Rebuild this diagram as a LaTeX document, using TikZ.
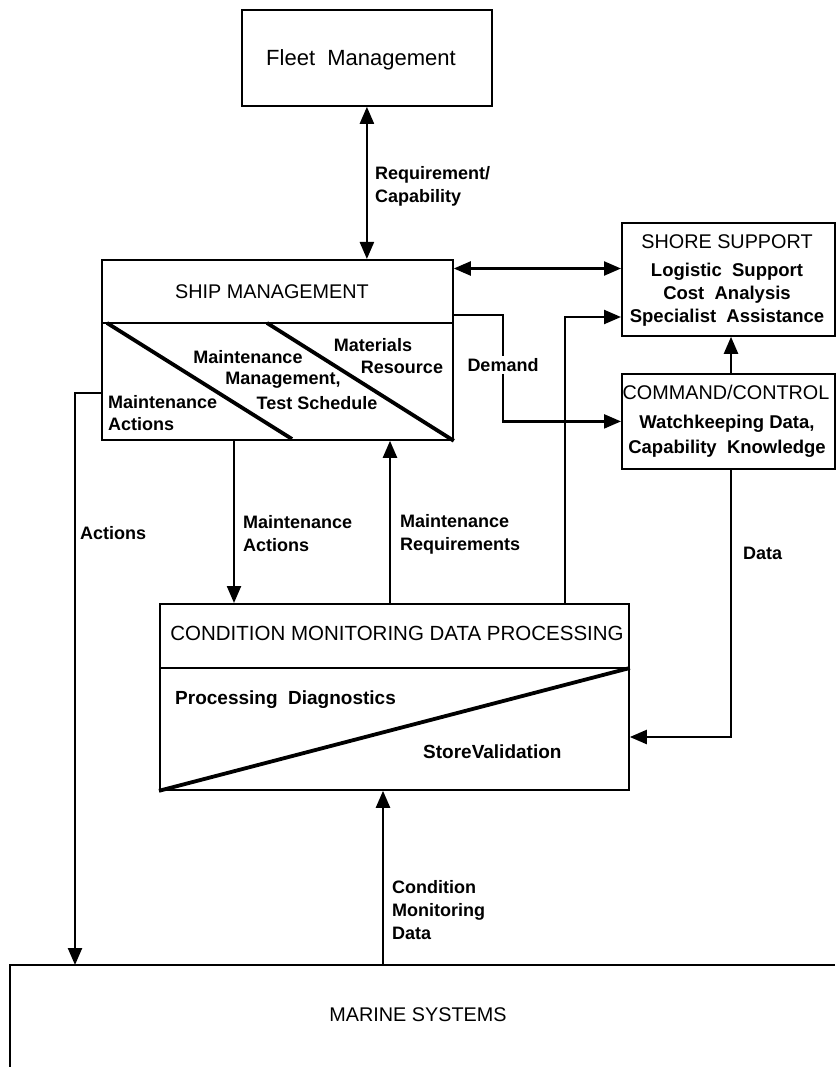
\documentclass[tikz,border=0pt]{standalone}
\usepackage{fontspec}
\setmainfont{Liberation Sans}
\usetikzlibrary{arrows.meta}
\begin{document}
\begin{tikzpicture}[x=1pt,y=-1pt,
  box/.style={draw,line width=1.8pt,anchor=north west,inner sep=0pt},
  head/.style={inner sep=0pt,font=\fontsize{19.8}{22}\selectfont},
  lbl/.style={inner sep=0pt,font=\bfseries\fontsize{18}{23}\selectfont},
  conn/.style={line width=2.3pt},
  tip/.style={-{Triangle[length=17pt,width=14pt]}},
  tips/.style={{Triangle[length=17pt,width=14pt]}-{Triangle[length=17pt,width=14pt]}},
  diag/.style={line width=3.8pt}]
\useasboundingbox (0,0) rectangle (835,1067);

% boxes
\node[box,minimum width=250pt,minimum height=96pt] (fleet) at (241,9) {};
\node[box,minimum width=351pt,minimum height=180pt] (ship) at (101,259) {};
\node[box,minimum width=213pt,minimum height=113pt] (shore) at (621,222) {};
\node[box,minimum width=213pt,minimum height=95pt] (cmd) at (621,373) {};
\node[box,minimum width=469pt,minimum height=186pt] (cmdp) at (159,603) {};

% dividers and diagonals
\coordinate (sdiv) at (0,323);
\draw[line width=1.8pt] (ship.west |- sdiv) -- (ship.east |- sdiv);
\draw[diag] (107,323) -- (292,439);
\draw[diag] (267,323) -- (ship.south east);
\coordinate (cdiv) at (0,668);
\draw[line width=1.8pt] (cmdp.west |- cdiv) -- (cmdp.east |- cdiv);
\draw[diag] (cmdp.south west) -- (cmdp.east |- cdiv);

% marine systems
\coordinate (mtl) at (10,965);
\coordinate (mtr) at (835,965);
\coordinate (mbl) at (10,1067);
\draw[line width=1.8pt] (mtr) -- (mtl) -- (mbl);

% texts in boxes
\node[head,font=\fontsize{22}{24}\selectfont] (tfleet) at (361,60) {Fleet\ \ Management};
\node[head] (tship) at (272,292) {SHIP MANAGEMENT};
\node[lbl] (tmat) at (373,345) {Materials};
\node[lbl] (tres) at (402,367) {Resource};
\node[lbl] (tmm1) at (248,357) {Maintenance};
\node[lbl] (tmm2) at (283,380) {Management,};
\node[lbl] (tmm3) at (317,403) {Test Schedule};
\node[lbl,anchor=west] (tma1) at (108,402) {Maintenance};
\node[lbl,anchor=west] (tma2) at (108,424) {Actions};
\node[head] (tshore) at (727,242) {SHORE SUPPORT};
\node[lbl,align=center,font=\bfseries\fontsize{18.5}{23}\selectfont] (tshore2) at (727,295) {Logistic\ \ Support\\Cost\ \ Analysis\\Specialist\ \ Assistance};
\node[head] (tcmd) at (726,392) {COMMAND/CONTROL};
\node[lbl,align=center,font=\bfseries\fontsize{18.5}{25}\selectfont] (tcmd2) at (727,436) {Watchkeeping Data,\\Capability\ \ Knowledge};
\node[head,font=\fontsize{20.5}{22}\selectfont] (tcmdp) at (397,633) {CONDITION MONITORING DATA PROCESSING};
\node[lbl,anchor=west,font=\bfseries\fontsize{19}{23}\selectfont] (tproc) at (175,700) {Processing\ \ Diagnostics};
\node[lbl,anchor=west,font=\bfseries\fontsize{19}{23}\selectfont] (tstore) at (423,752) {StoreValidation};
\node[head] (marine) at (418,1015) {MARINE SYSTEMS};

% connectors
\draw[conn,tips] (fleet.south) -- (fleet.south |- ship.north);
\draw[conn,tips] ([yshift=-9.5pt]ship.north east) -- ([yshift=-9.5pt]ship.north east -| shore.west);
\coordinate (dm) at (503,315);
\draw[conn,tip] (ship.east |- dm) -- (dm) -- (dm |- cmd.west) -- (cmd.west);
\coordinate (cs) at (565,317);
\draw[conn,tip] (cs |- cmdp.north) -- (cs) -- (cs -| shore.west);
\coordinate (cc) at (731,0);
\draw[conn,tip] (cc |- cmd.north) -- (cc |- shore.south);
\coordinate (dd) at (731,737);
\draw[conn,tip] (dd |- cmd.south) -- (dd) -- (dd -| cmdp.east);
\coordinate (mac) at (234,0);
\draw[conn,tip] (mac |- ship.south) -- (mac |- cmdp.north);
\coordinate (mrq) at (390,0);
\draw[conn,tip] (mrq |- cmdp.north) -- (mrq |- ship.south);
\coordinate (act) at (75,393);
\draw[conn,tip] (ship.west |- act) -- (act) -- (act |- mtl);
\coordinate (cmd0) at (383,0);
\draw[conn,tip] (cmd0 |- mtl) -- (cmd0 |- cmdp.south);

% connector labels
\node[lbl,anchor=west,align=left] (lreq) at (375,186) {Requirement/\\Capability};
\node[lbl,fill=white,inner sep=2pt] (ldem) at (503,365) {Demand};
\node[lbl,anchor=west] (lact) at (80,533) {Actions};
\node[lbl,anchor=west,align=left] (lma) at (243,534) {Maintenance\\Actions};
\node[lbl,anchor=west,align=left] (lmr) at (400,534) {Maintenance\\Requirements};
\node[lbl,anchor=west] (ldata) at (743,553) {Data};
\node[lbl,anchor=west,align=left] (lcmd) at (392,910) {Condition\\Monitoring\\Data};
\end{tikzpicture}
\end{document}
